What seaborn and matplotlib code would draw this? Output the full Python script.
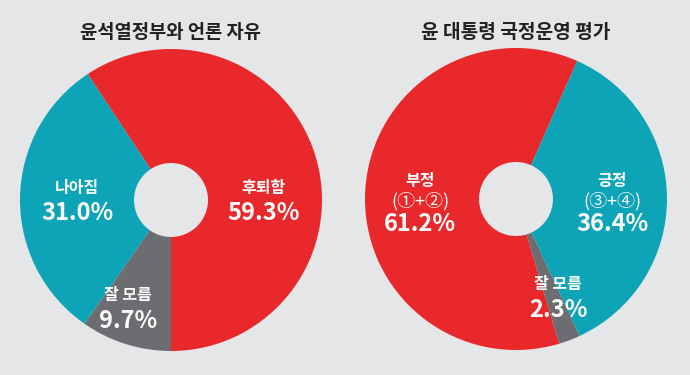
import matplotlib
matplotlib.use("Agg")
import matplotlib.pyplot as plt
import seaborn as sns

sns.set_theme(style="white")
plt.rcParams['font.family'] = ['Noto Sans CJK KR', 'DejaVu Sans']

# ---- data ----
left_title = "윤석열정부와 언론 자유"
left_labels = ["후퇴함", "나아짐", "잘 모름"]
left_values = [59.3, 31.0, 9.7]

right_title = "윤 대통령 국정운영 평가"
right_labels = ["부정\n(①+②)", "잘 모름", "긍정\n(③+④)"]
right_values = [61.2, 2.3, 36.4]

RED = "#E8282A"
TEAL = "#0EA4B7"
GRAY = "#6C6D71"
BG = "#E5E6E8"

left_colors = [RED, TEAL, GRAY]
right_colors = [RED, GRAY, TEAL]

W, H = 690, 375
fig = plt.figure(figsize=(W / 100, H / 100), dpi=100, facecolor=BG)


def make_ax(cx, cy, r):
    return fig.add_axes([(cx - r) / W, (H - cy - r) / H, 2 * r / W, 2 * r / H])


def donut(ax, values, colors, start):
    ax.set_facecolor(BG)
    ax.pie(values, colors=colors, startangle=start, counterclock=True,
           radius=1.0, wedgeprops=dict(width=0.755, linewidth=0))
    ax.set_xlim(-1, 1)
    ax.set_ylim(-1, 1)
    ax.set_aspect('equal')
    ax.axis('off')


def ftext(x, y, s, size, weight='bold', color='#FBFBFB'):
    fig.text(x / W, 1 - y / H, s, ha='center', va='center', fontsize=size,
             fontweight=weight, color=color)


# left donut
axL = make_ax(171, 200, 151)
donut(axL, left_values, left_colors, -90)
# right donut
axR = make_ax(516, 199, 151)
donut(axR, right_values, right_colors, 66.1)

# titles
ftext(171, 32, left_title, 13.5, color="#222222")
ftext(516, 32, right_title, 13.8, color="#222222")

NUM = 17.0
LAB = 11.5
# left labels
ftext(263, 188, left_labels[0], LAB)
ftext(264, 213, f"{left_values[0]:.1f}%", NUM)
ftext(77, 188, left_labels[1], LAB)
ftext(77, 213, f"{left_values[1]:.1f}%", NUM)
ftext(128, 295, left_labels[2], LAB)
ftext(128, 321, f"{left_values[2]:.1f}%", NUM)

# right labels
neg_t, neg_s = right_labels[0].split("\n")
pos_t, pos_s = right_labels[2].split("\n")
ftext(420, 181, neg_t, LAB)
ftext(420, 201, neg_s, 13, weight='medium')
ftext(420, 224, f"{right_values[0]:.1f}%", NUM)
ftext(612, 181, pos_t, LAB)
ftext(612, 201, pos_s, 13, weight='medium')
ftext(612, 224, f"{right_values[2]:.1f}%", NUM)
ftext(558, 284, right_labels[1], LAB)
ftext(558, 310, f"{right_values[1]:.1f}%", NUM)

fig.savefig("out.png", dpi=100, facecolor=BG)
